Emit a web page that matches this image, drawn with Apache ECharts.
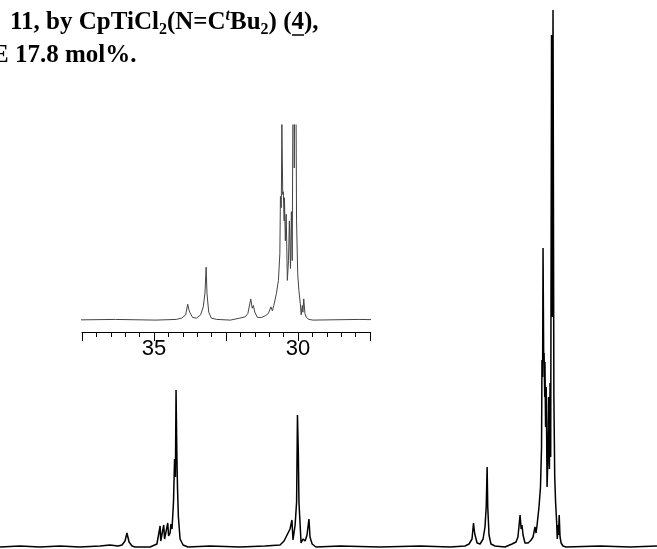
<!DOCTYPE html>
<html>
<head>
<meta charset="utf-8">
<script src="https://cdn.jsdelivr.net/npm/echarts@6/dist/echarts.min.js"></script>
<style>
  html, body { margin: 0; padding: 0; background: #fff; }
  #main { width: 657px; height: 549px; }
</style>
</head>
<body>
<div id="main"></div>
<script>
// chemical shift (ppm) of each traced point of the spectrum
var shifts = [
  56.10, 55.16, 54.22, 53.28, 52.34, 51.40, 50.93, 50.55, 50.36, 50.22, 50.13, 50.03, 49.89, 49.75,
  49.04, 48.72, 48.57, 48.54, 48.48, 48.40, 48.36, 48.29, 48.21, 48.17, 48.10, 48.06, 48.01,
  47.94, 47.89, 47.85, 47.82, 47.78, 47.75, 47.71, 47.63, 47.49, 47.26,
  46.22, 44.81, 43.64, 42.93, 42.74, 42.60, 42.46, 42.37, 42.32, 42.22, 42.15, 42.11, 42.07,
  42.04, 41.94, 41.85, 41.75, 41.66, 41.57, 41.52, 41.42, 41.24,
  40.11, 38.23, 36.34, 34.93, 34.23, 34.04, 33.90, 33.83, 33.79, 33.76, 33.66, 33.52, 33.38,
  33.29, 33.23, 33.19, 33.16, 33.10, 33.01, 32.82, 32.35, 32.02, 31.83, 31.74, 31.64, 31.59,
  31.55, 31.50, 31.41, 31.26, 31.12, 31.03, 30.94, 30.89, 30.84, 30.75, 30.68, 30.63, 30.61,
  30.58, 30.56, 30.53, 30.51, 30.48, 30.47, 30.44, 30.41, 30.37, 30.33, 30.30, 30.26, 30.23,
  30.20, 30.16, 30.13, 30.09, 30.05, 30.01, 29.97, 29.92, 29.89, 29.85, 29.83, 29.80, 29.76,
  29.71, 29.62, 29.48, 27.88, 26.47, 25.20
];
// intensity at each point (arbitrary units)
var intensity = [
  0, 1, 0, 1, 0, 1, 2, 1, 2, 6, 14, 5, 1, 0,
  0, 3, 21, 6, 8, 22, 8, 10, 24, 11, 14, 23, 18,
  45, 88, 70, 157, 90, 58, 30, 8, 2, 0,
  1, 0, 1, 2, 6, 12, 18, 27, 7, 22, 45, 132, 95,
  45, 4, 8, 6, 12, 28, 10, 3, 0,
  1, 0, 1, 0, 1, 3, 8, 24, 16, 12, 4, 3, 8,
  20, 41, 80, 40, 12, 3, 1, 0, 3, 5, 10, 32, 18,
  22, 12, 4, 4, 7, 10, 20, 14, 22, 40, 60, 100, 187,
  170, 299, 190, 194, 150, 185, 120, 160, 60, 90, 150, 78, 164,
  90, 512, 230, 537, 150, 70, 45, 25, 8, 22, 12, 32, 10,
  4, 1, 0, 1, 0, 1
];
// inset axis labels that are printed
var insetLabels = [35, 30];

var spectrum = shifts.map(function (s, i) { return [s, intensity[i]]; });

var chart = echarts.init(document.getElementById('main'));

var option = {
  animation: false,
  backgroundColor: '#fff',
  grid: [
    { left: 0, right: 0, top: 0, bottom: 0 },
    { left: 82, width: 288, top: 125, height: 207 }
  ],
  xAxis: [
    { type: 'value', gridIndex: 0, min: 25.2, max: 56.1, inverse: true, show: false },
    {
      type: 'value', gridIndex: 1, min: 27.5, max: 37.5, interval: 2.5, inverse: true,
      axisLine: { show: true, onZero: false, lineStyle: { color: '#000', width: 1 } },
      axisTick: { show: true, length: 9, lineStyle: { color: '#000' } },
      minorTick: { show: true, splitNumber: 5, length: 5, lineStyle: { color: '#000' } },
      splitLine: { show: false },
      axisLabel: {
        margin: 6, fontSize: 22, color: '#000', fontFamily: 'Liberation Sans',
        showMinLabel: true, showMaxLabel: true,
        formatter: function (v) { return insetLabels.indexOf(v) >= 0 ? String(v) : ''; }
      }
    }
  ],
  yAxis: [
    { type: 'value', gridIndex: 0, min: -2, max: 547, show: false },
    { type: 'value', gridIndex: 1, min: -18, max: 295, show: false }
  ],
  series: [
    {
      type: 'line', xAxisIndex: 0, yAxisIndex: 0, data: spectrum,
      showSymbol: false, lineStyle: { color: '#000', width: 1.5 }
    },
    {
      type: 'line', xAxisIndex: 1, yAxisIndex: 1, data: spectrum, clip: true,
      showSymbol: false, lineStyle: { color: '#444', width: 1 }
    }
  ],
  graphic: [
    {
      type: 'text', left: 10, top: 8,
      style: {
        text: '{n|11, by CpTiCl}{s|2}{n|(N=C}{t|t}{n|Bu}{s|2}{n|) (}{n|4}{n|),}',
        rich: {
          n: { fontFamily: 'Liberation Serif', fontWeight: 'bold', fontSize: 25, lineHeight: 30, fill: '#000' },
          s: { fontFamily: 'Liberation Serif', fontWeight: 'bold', fontSize: 16, lineHeight: 14, verticalAlign: 'bottom', fill: '#000' },
          t: { fontFamily: 'Liberation Serif', fontWeight: 'bold', fontStyle: 'italic', fontSize: 16, lineHeight: 16, verticalAlign: 'top', fill: '#000' }
        }
      }
    },
    {
      type: 'line', shape: { x1: 292, y1: 35, x2: 304, y2: 35 },
      style: { stroke: '#000', lineWidth: 1.5 }
    },
    {
      type: 'text', left: -8, top: 43,
      style: {
        text: 'E 17.8 mol%.',
        fontFamily: 'Liberation Serif', fontWeight: 'bold', fontSize: 25, fill: '#000'
      }
    }
  ]
};

chart.setOption(option);
</script>
</body>
</html>
